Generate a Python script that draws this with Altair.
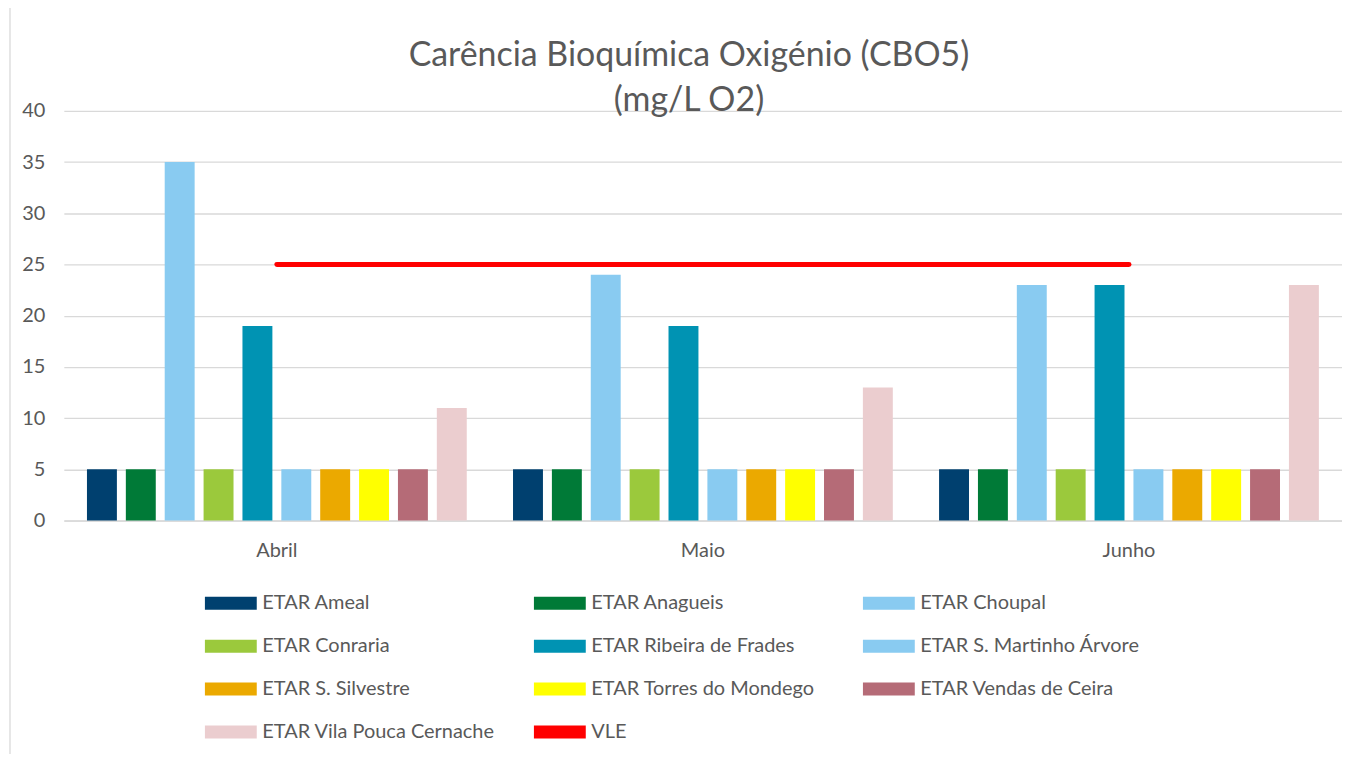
import altair as alt
import pandas as pd

months = ["Abril", "Maio", "Junho"]
series = [
    "ETAR Ameal", "ETAR Anagueis", "ETAR Choupal", "ETAR Conraria",
    "ETAR Ribeira de Frades", "ETAR S. Martinho Árvore", "ETAR S. Silvestre",
    "ETAR Torres do Mondego", "ETAR Vendas de Ceira", "ETAR Vila Pouca Cernache",
]
ameal = [5, 5, 5]
anagueis = [5, 5, 5]
choupal = [35, 24, 23]
conraria = [5, 5, 5]
ribeira = [19, 19, 23]
martinho = [5, 5, 5]
silvestre = [5, 5, 5]
torres = [5, 5, 5]
vendas = [5, 5, 5]
vila_pouca = [11, 13, 23]
vle = [25, 25, 25]

colors = ["#00406F", "#007A37", "#89CBF1", "#9BC93C", "#0093B3",
          "#89CBF1", "#EBA900", "#FFFF00", "#B56B77", "#EBCDCF", "#FF0000"]

values = [ameal, anagueis, choupal, conraria, ribeira, martinho,
          silvestre, torres, vendas, vila_pouca]
rows = []
for s, vals in zip(series, values):
    for m, v in zip(months, vals):
        rows.append({"month": m, "series": s, "value": v})
bars_df = pd.DataFrame(rows)
vle_df = pd.DataFrame({"month": months, "series": ["VLE"] * 3, "value": vle})

FONT = "Lato"
GREY = "#595959"
domain_all = series + ["VLE"]

legend = alt.Legend(
    title=None, orient="none", legendX=138, legendY=484, columns=3,
    direction="horizontal",
    gridAlign="all", columnPadding=35, rowPadding=23, padding=0,
    symbolSize=169, symbolType="M-1,-1H7V1H-1Z", labelOffset=41,
    symbolStrokeWidth=0, symbolOpacity=1,
    labelFont=FONT, labelFontSize=20, labelColor=GREY, labelLimit=400,
)

color = alt.Color("series:N", scale=alt.Scale(domain=domain_all, range=colors),
                  legend=legend)

x = alt.X("month:N", sort=months,
          scale=alt.Scale(paddingInner=0, paddingOuter=0),
          axis=alt.Axis(title=None, labelAngle=0, ticks=False, grid=False,
                        domainColor="#d9d9d9", domainWidth=1.5,
                        labelFont=FONT, labelFontSize=20, labelColor=GREY,
                        labelPadding=20))
y = alt.Y("value:Q", scale=alt.Scale(domain=[0, 40], nice=False),
          axis=alt.Axis(title=None, values=list(range(0, 41, 5)), domain=False,
                        ticks=False, gridColor="#d9d9d9", gridWidth=1.3,
                        labelFont=FONT, labelFontSize=20, labelColor=GREY,
                        labelPadding=19))

bars = alt.Chart(bars_df).mark_bar().encode(
    x=x, y=y, color=color,
    xOffset=alt.XOffset("series:N", sort=series,
                        scale=alt.Scale(paddingInner=0.23, paddingOuter=0.595)),
)

line = alt.Chart(vle_df).mark_line(strokeWidth=5, strokeCap="round").encode(
    x=alt.X("month:N", sort=months), y="value:Q", color=color,
)

border = alt.Chart(alt.Data(values=[{}])).mark_rule(
    color="#d9d9d9", strokeWidth=1.3, clip=False
).encode(x=alt.value(-54), y=alt.value(-110), y2=alt.value(645))

chart = alt.layer(bars, line, border).properties(
    width=1282, height=411,
    autosize=alt.AutoSizeParams(type="none"),
    padding={"left": 56, "top": 102, "right": 0, "bottom": 235},
    title=alt.TitleParams(
        text=["Carência Bioquímica Oxigénio (CBO5)", "(mg/L O2)"],
        font=FONT, fontSize=34, fontWeight="normal", color=GREY,
        anchor="middle", lineHeight=45, offset=-118, dx=-14,
    ),
).configure_view(stroke=None)

chart.save("out.html", embed_options={"renderer": "svg", "actions": False})
